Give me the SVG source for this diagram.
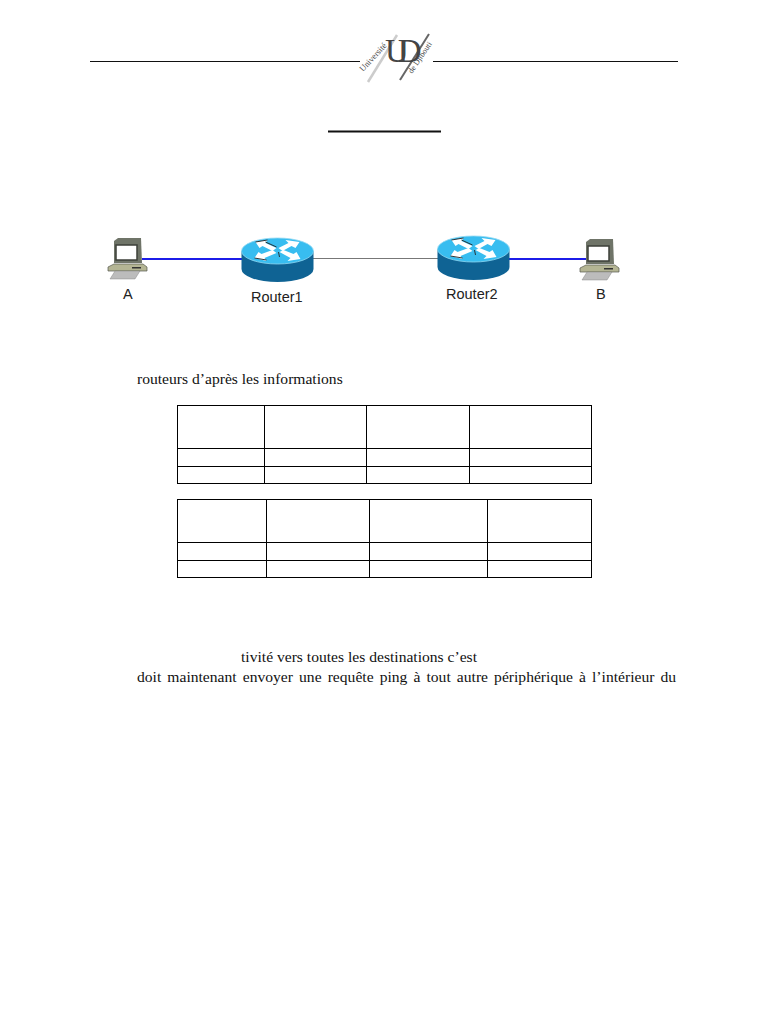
<svg xmlns="http://www.w3.org/2000/svg" width="768" height="1024" viewBox="0 0 768 1024">
<style>
.body{font-family:"Liberation Serif",serif;font-size:15.6px;fill:#111}
.lab{font-family:"Liberation Sans",sans-serif;font-size:14.5px;fill:#222}
.rule{stroke:#111;stroke-width:1;fill:none}
.grid{stroke:#000;stroke-width:1;fill:none;shape-rendering:crispEdges}
.logo{font-family:"Liberation Serif",serif;fill:#444}
.rside{fill:#0f6394}.rtop{fill:#38bdf0;stroke:#8fd8f2;stroke-width:.8}
.arrow{fill:#fff}.arrowk{fill:none;stroke:#222;stroke-width:.9}
.link{stroke:#1c1ce8;stroke-width:2}
</style>
<defs>
<g id="router">
<path class="rside" d="M-36 0V18A36 13 0 0 0 36 18V0Z"/>
<ellipse class="rtop" cx="0" cy="0" rx="36" ry="13"/>
<path class="arrow" d="M-22 -9L-10 -11L-12 -8L-1 -3L-5 0L-15 -5L-18 -3Z"/>
<path class="arrow" d="M22 -9L8 -11L11 -8L1 -3L5 0L14 -5L18 -3Z"/>
<path class="arrow" d="M-23 7L-11 10L-13 7L-1 2L-5 -1L-16 3L-19 1Z"/>
<path class="arrow" d="M23 8L10 10L13 7L2 1L6 -1L16 3L19 1Z"/>
<path class="arrowk" d="M-22 -9L-10 -11M-23 7L-11 9M1 1L2 6M-1 -4L-12 -9"/>
</g>
<g id="pc">
<path d="M7 3L11 0H34L35 25H7Z" fill="#6f7468"/>
<rect x="9" y="7" width="21" height="15" fill="#fff" stroke="#3c3f38" stroke-width="1.500"/>
<path d="M1 29L7 26H36L40 29V33H1Z" fill="#b4b594" stroke="#55584e" stroke-width=".7"/>
<rect x="25" y="29" width="9" height="1.500" fill="#333"/>
<path d="M3 41L8 33H33L28 41Z" fill="#bcbcbc" stroke="#777" stroke-width=".4"/>
</g>
</defs>
<g id="header">
<path class="rule" d="M90 61.500H360M433 61.500H678"/>
<path d="M368 82L397 35" stroke="#ccc" stroke-width="2.500"/>
<path d="M400 80L429 34" stroke="#666" stroke-width="2"/>
<text class="logo" font-size="8.500" transform="translate(363 72) rotate(-47)">Université</text>
<text class="logo" font-size="8" transform="translate(412 74) rotate(-56)">de Djibouti</text>
<text class="logo" font-size="33" x="385" y="62" letter-spacing="-11">UD</text>
</g>
<path d="M328 131.500H441" stroke="#111" stroke-width="2"/>
<g id="connectors">
<path class="link" d="M142 259H243"/>
<path d="M313 258.500H438" stroke="#777" stroke-width="1.200"/>
<path class="link" d="M509 259H586"/>
</g>
<g id="pcA"><use href="#pc" x="107" y="238"/><text class="lab" x="123" y="299">A</text></g>
<g id="router1"><use href="#router" x="277.500" y="251"/><text class="lab" x="251" y="302">Router1</text></g>
<g id="router2"><use href="#router" x="473.500" y="249"/><text class="lab" x="446" y="299">Router2</text></g>
<g id="pcB"><use href="#pc" x="579" y="239"/><text class="lab" x="596" y="299">B</text></g>
<text class="body" x="137" y="384">routeurs d’après les informations</text>
<g id="table1" class="grid">
<rect x="177.500" y="405.500" width="414" height="78"/>
<path d="M177.500 448.500H591.500M177.500 466.500H591.500M264.500 405.500V483.500M366.500 405.500V483.500M469.500 405.500V483.500"/>
</g>
<g id="table2" class="grid">
<rect x="177.500" y="499.500" width="414" height="78"/>
<path d="M177.500 542.500H591.500M177.500 560.500H591.500M266.500 499.500V577.500M369.500 499.500V577.500M487.500 499.500V577.500"/>
</g>
<text class="body" x="241" y="662">tivité vers toutes les destinations c’est</text>
<text class="body" x="137" y="682" word-spacing="2.200">doit maintenant envoyer une requête ping à tout autre périphérique à l’intérieur du</text>
</svg>
